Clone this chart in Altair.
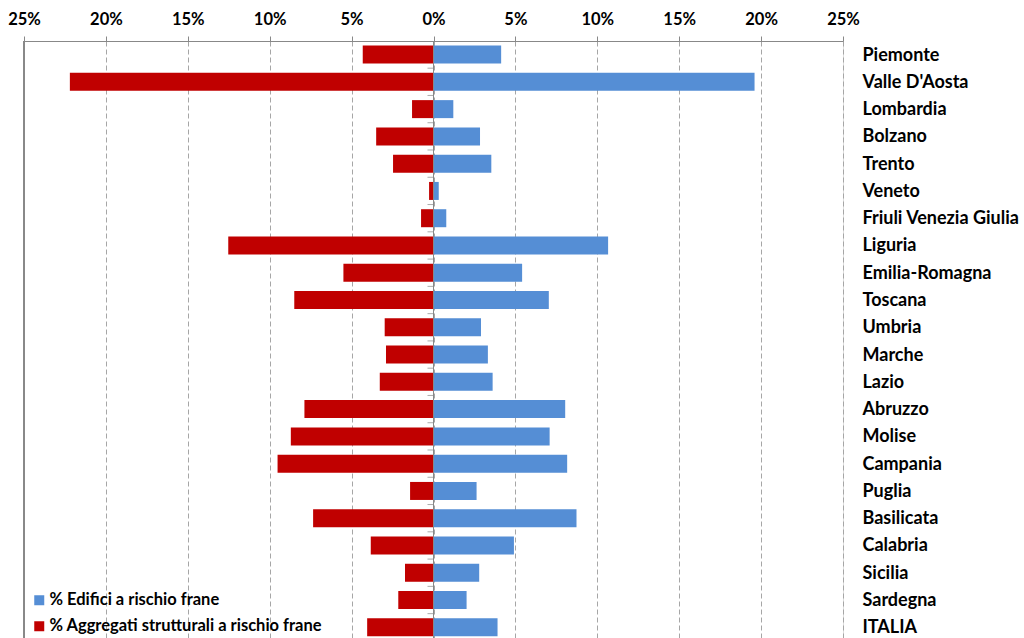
import altair as alt
import pandas as pd

regions = ["Piemonte", "Valle D'Aosta", "Lombardia", "Bolzano", "Trento", "Veneto",
           "Friuli Venezia Giulia", "Liguria", "Emilia-Romagna", "Toscana", "Umbria",
           "Marche", "Lazio", "Abruzzo", "Molise", "Campania", "Puglia", "Basilicata",
           "Calabria", "Sicilia", "Sardegna", "ITALIA"]
edifici = [4.13, 19.6, 1.21, 2.84, 3.53, 0.32, 0.78, 10.66, 5.41, 7.04, 2.9,
           3.32, 3.61, 8.04, 7.09, 8.16, 2.63, 8.73, 4.91, 2.79, 2.02, 3.91]
aggregati = [4.32, 22.2, 1.31, 3.5, 2.47, 0.27, 0.76, 12.53, 5.5, 8.5, 2.98,
             2.9, 3.28, 7.88, 8.71, 9.52, 1.43, 7.35, 3.83, 1.74, 2.15, 4.05]
series = ["% Edifici a rischio frane", "% Aggregati strutturali a rischio frane"]
colors = ["#558ED5", "#C00000"]
x_ticks = [-25, -20, -15, -10, -5, 0, 5, 10, 15, 20, 25]

rows = []
for r, e, a in zip(regions, edifici, aggregati):
    rows.append({"regione": r, "serie": series[0], "valore": e})
    rows.append({"regione": r, "serie": series[1], "valore": -a})
df = pd.DataFrame(rows)
df_reg = pd.DataFrame({"regione": regions, "zero": [0] * len(regions)})

FONT = "Lato"
xscale = alt.Scale(domain=[-25, 25], nice=False, zero=False)
yscale = alt.Scale(domain=regions, paddingInner=0.34, paddingOuter=0.115, align=0.73)

bars = alt.Chart(df).mark_bar().encode(
    x=alt.X("valore:Q", scale=xscale,
            axis=alt.Axis(orient="top", values=x_ticks, title=None,
                          labelExpr="abs(datum.value) + '%'",
                          labelFont=FONT, labelFontSize=16.5, labelFontWeight="bold",
                          labelColor="black", labelPadding=9, labelFlush=False,
                          domainColor="#888888", tickColor="#888888", tickSize=5,
                          grid=True, gridColor="#A6A6A6", gridDash=[5, 3])),
    y=alt.Y("regione:N", scale=yscale, sort=regions,
            axis=alt.Axis(orient="right", title=None, domain=False, ticks=False,
                          labelFont=FONT, labelFontSize=18, labelFontWeight="bold",
                          labelColor="black", labelPadding=19, labelAlign="left",
                          labelLimit=0, labelOffset=1)),
    color=alt.Color("serie:N", scale=alt.Scale(domain=series, range=colors),
                    legend=alt.Legend(title=None, orient="none", legendX=7, legendY=551,
                                      symbolType="square", symbolSize=100,
                                      symbolStrokeWidth=0, labelFont=FONT,
                                      labelFontSize=16.5, labelFontWeight="bold",
                                      labelColor="black", labelOffset=2, labelLimit=0,
                                      rowPadding=9, symbolOpacity=1)),
)

left_border = alt.Chart(df_reg).mark_rule(color="#888888", strokeWidth=1).encode(
    x=alt.datum(-25, scale=xscale),
)
zero_line = alt.Chart(df_reg).mark_rule(color="#888888", strokeWidth=1).encode(
    x=alt.datum(0),
)
cat_ticks = alt.Chart(df_reg).mark_tick(orient="horizontal", size=6, thickness=1,
                                        color="#888888", xOffset=-3, yOffset=13.6).encode(
    x=alt.X("zero:Q", scale=xscale),
    y=alt.Y("regione:N", scale=yscale, sort=regions),
)

chart = alt.layer(bars, left_border, zero_line, cat_ticks).properties(
    width=819, height=597,
    autosize=alt.AutoSizeParams(type="none"),
    padding={"left": 24, "top": 41, "right": 181, "bottom": 0},
).configure_view(stroke=None).configure(background="white")

chart.save("out.html", embed_options={"renderer": "svg", "actions": False})
